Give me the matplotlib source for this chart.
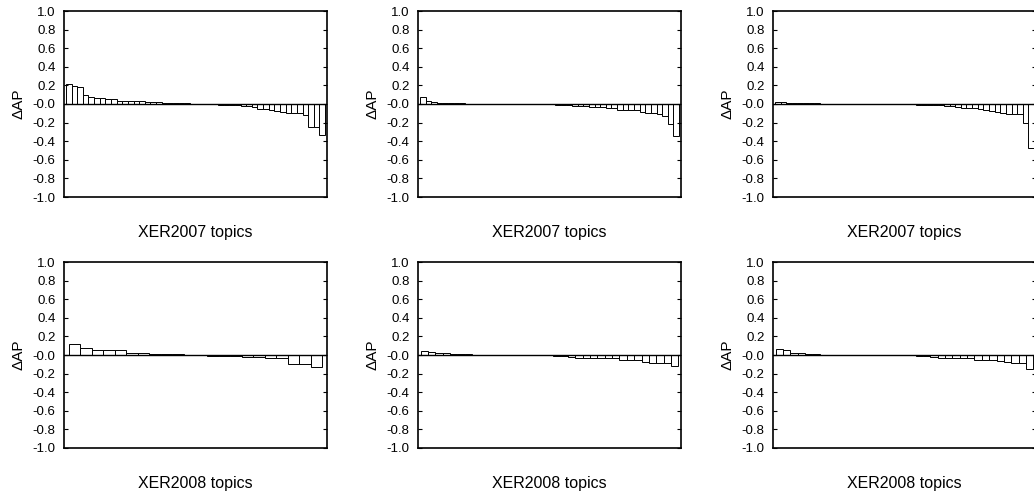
import numpy as np
import matplotlib
matplotlib.use('Agg')
import matplotlib.pyplot as plt

plt.rcParams['font.family'] = ['Liberation Sans', 'DejaVu Sans']

# Delta AP per topic, sorted (XER2007: 46 topics)
xer2007_a = [0.22, 0.19, 0.18, 0.10, 0.08, 0.065, 0.065, 0.055, 0.055, 0.032,
             0.032, 0.03, 0.03, 0.028, 0.025, 0.02, 0.018, 0.014, 0.012, 0.01,
             0.008, 0.006, 0.0, -0.002, -0.003, -0.004, -0.005, -0.006, -0.008, -0.01,
             -0.012, -0.018, -0.02, -0.028, -0.054, -0.055, -0.065, -0.08, -0.09, -0.097,
             -0.097, -0.1, -0.115, -0.25, -0.25, -0.335]
xer2007_b = [0.07, 0.03, 0.02, 0.015, 0.012, 0.01, 0.008, 0.006, 0.004, 0.003,
             0.002, 0.001, 0.001, 0.0, 0.0, 0.0, 0.0, 0.0, 0.0, -0.001,
             -0.002, -0.003, -0.004, -0.005, -0.007, -0.012, -0.015, -0.018, -0.022, -0.025,
             -0.035, -0.035, -0.037, -0.04, -0.045, -0.06, -0.06, -0.062, -0.065, -0.09,
             -0.1, -0.1, -0.11, -0.13, -0.22, -0.34]
xer2007_c = [0.025, 0.025, 0.015, 0.012, 0.01, 0.008, 0.007, 0.006, 0.005, 0.004,
             0.003, 0.003, 0.002, 0.001, 0.0, 0.0, 0.0, 0.0, 0.0, 0.0,
             -0.001, -0.002, -0.003, -0.004, -0.005, -0.006, -0.008, -0.01, -0.012, -0.015,
             -0.02, -0.025, -0.035, -0.04, -0.045, -0.045, -0.055, -0.065, -0.07, -0.085,
             -0.1, -0.105, -0.105, -0.105, -0.2, -0.47]

# XER2008
xer2008_a = [0.122, 0.079, 0.057, 0.057, 0.05, 0.025, 0.02, 0.01, 0.007, 0.007,
             0.004, 0.0, -0.007, -0.007, -0.01, -0.02, -0.02, -0.029, -0.032, -0.093,
             -0.1, -0.125]
xer2008_b = [0.043, 0.03, 0.025, 0.018, 0.014, 0.01, 0.007, 0.005, 0.004, 0.003,
             0.002, 0.001, 0.0, 0.0, 0.0, -0.001, -0.002, -0.004, -0.007, -0.014,
             -0.02, -0.029, -0.029, -0.03, -0.032, -0.032, -0.035, -0.054, -0.055, -0.057,
             -0.08, -0.082, -0.085, -0.09, -0.12]
xer2008_c = [0.064, 0.054, 0.025, 0.021, 0.014, 0.008, 0.005, 0.003, 0.002, 0.001,
             0.0, 0.0, 0.0, 0.0, 0.0, 0.0, 0.0, -0.002, -0.005, -0.01,
             -0.014, -0.02, -0.032, -0.032, -0.032, -0.032, -0.035, -0.05, -0.05, -0.055,
             -0.064, -0.075, -0.082, -0.085, -0.146]

panels = [
    (xer2007_a, 'XER2007 topics'), (xer2007_b, 'XER2007 topics'), (xer2007_c, 'XER2007 topics'),
    (xer2008_a, 'XER2008 topics'), (xer2008_b, 'XER2008 topics'), (xer2008_c, 'XER2008 topics'),
]

W, H = 1034, 496
fig = plt.figure(figsize=(W / 100, H / 100), dpi=100)
fig.patch.set_facecolor('white')

lefts = [64, 418, 773]
tops = [11, 262]
aw, ah = 263, 186
yt = np.arange(-1.0, 1.01, 0.2)

for i, (vals, xlabel) in enumerate(panels):
    row, col = divmod(i, 3)
    ax = fig.add_axes([lefts[col] / W, 1 - (tops[row] + ah) / H, aw / W, ah / H])
    n = len(vals)
    x = np.arange(n)
    ax.bar(x, vals, width=1.0, color='white', edgecolor='black', linewidth=0.7)
    ax.axhline(0, color='black', linewidth=1.0)
    gap = 0.4 if n < 30 else 0.35
    ax.set_xlim(-0.5 - gap, n - 0.5 + gap)
    ax.set_ylim(-1.0, 1.0)
    ax.set_yticks(yt)
    ax.set_yticklabels([f'{v:.1f}' for v in yt])
    ax.set_xticks([])
    ax.tick_params(axis='y', direction='in', length=3, width=0.8, right=True,
                   labelsize=9.5, pad=6)
    for sp in ax.spines.values():
        sp.set_linewidth(1.2)
    ax.set_ylabel('ΔAP', fontsize=11, labelpad=5)
    ax.set_xlabel(xlabel, fontsize=11.5, labelpad=20)

plt.savefig('out.png', dpi=100, facecolor='white')
plt.close()
